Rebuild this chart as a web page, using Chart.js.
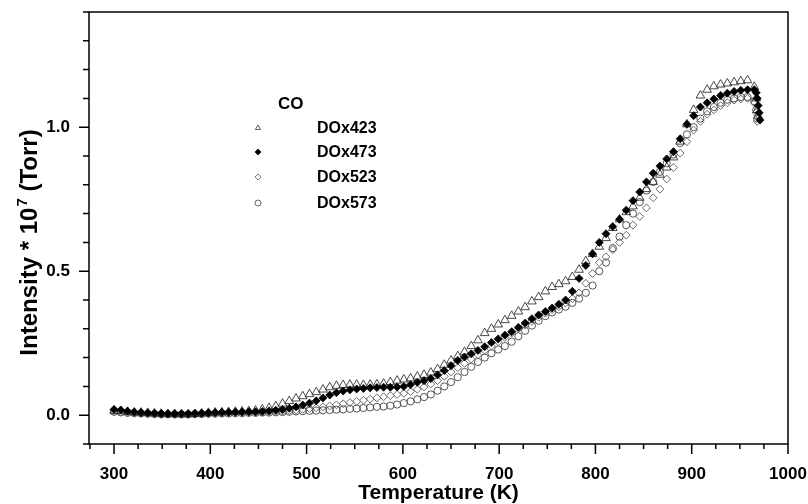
<!DOCTYPE html>
<html>
<head>
<meta charset="utf-8">
<script src="https://cdn.jsdelivr.net/npm/chart.js@4.4.1/dist/chart.umd.min.js"></script>
<style>
  html, body { margin: 0; padding: 0; background: #fff; }
  #wrap { width: 808px; height: 504px; }
</style>
</head>
<body>
<div id="wrap"><canvas id="chart" width="808" height="504"></canvas></div>
<script>
// temperature grid (K) shared by the four runs
const temps = [
  300, 307, 314, 321, 328, 335, 342, 349, 356, 363, 370, 377,
  384, 391, 398, 405, 412, 419, 426, 433, 440, 447, 454, 461,
  468, 475, 482, 489, 496, 503, 510, 517, 524, 531, 538, 545,
  552, 559, 566, 573, 580, 587, 594, 601, 608, 615, 622, 629,
  636, 643, 650, 657, 664, 671, 678, 685, 692, 699, 706, 713,
  720, 727, 734, 741, 748, 755, 762, 769, 776, 783, 790, 797,
  804, 811, 818, 825, 832, 839, 846, 853, 860, 867, 874, 881,
  888, 895, 902, 909, 916, 923, 930, 937, 944, 951, 958, 965
];

// CO intensity * 1e7 (Torr)
const dox423 = [
  0.015, 0.014, 0.012, 0.010, 0.009, 0.008, 0.006, 0.005, 0.004, 0.004, 0.003, 0.003,
  0.004, 0.006, 0.008, 0.009, 0.010, 0.011, 0.012, 0.013, 0.014, 0.016, 0.020, 0.025,
  0.031, 0.040, 0.049, 0.058, 0.066, 0.073, 0.080, 0.089, 0.097, 0.102, 0.105, 0.106,
  0.106, 0.105, 0.106, 0.107, 0.110, 0.115, 0.120, 0.124, 0.128, 0.134, 0.140, 0.148,
  0.160, 0.175, 0.190, 0.205, 0.220, 0.240, 0.260, 0.285, 0.300, 0.315, 0.330, 0.345,
  0.360, 0.375, 0.395, 0.410, 0.430, 0.445, 0.455, 0.465, 0.480, 0.505, 0.535, 0.560,
  0.585, 0.615, 0.650, 0.680, 0.705, 0.725, 0.755, 0.785, 0.810, 0.835, 0.860, 0.895,
  0.950, 1.010, 1.060, 1.110, 1.130, 1.142, 1.148, 1.152, 1.156, 1.160, 1.163, 1.140
];
const dox423TailX = [967, 968, 969];
const dox423TailY = [1.10, 1.06, 1.04];

const dox473 = [
  0.020, 0.018, 0.014, 0.011, 0.009, 0.008, 0.007, 0.006, 0.005, 0.005, 0.005, 0.005,
  0.006, 0.007, 0.008, 0.009, 0.010, 0.010, 0.011, 0.011, 0.012, 0.012, 0.013, 0.015,
  0.017, 0.020, 0.024, 0.029, 0.035, 0.042, 0.050, 0.060, 0.070, 0.078, 0.084, 0.088,
  0.091, 0.093, 0.095, 0.096, 0.097, 0.097, 0.098, 0.100, 0.106, 0.114, 0.120, 0.127,
  0.140, 0.155, 0.172, 0.190, 0.202, 0.213, 0.225, 0.238, 0.252, 0.265, 0.278, 0.290,
  0.305, 0.320, 0.335, 0.348, 0.360, 0.372, 0.385, 0.400, 0.430, 0.475, 0.520, 0.560,
  0.600, 0.630, 0.655, 0.680, 0.712, 0.745, 0.775, 0.810, 0.840, 0.865, 0.890, 0.915,
  0.960, 1.010, 1.040, 1.070, 1.085, 1.098, 1.110, 1.118, 1.124, 1.128, 1.130, 1.130
];
const dox473TailX = [967, 968, 969, 970, 971];
const dox473TailY = [1.12, 1.10, 1.075, 1.05, 1.025];

const dox523 = [
  0.012, 0.011, 0.010, 0.008, 0.007, 0.006, 0.005, 0.004, 0.004, 0.003, 0.003, 0.003,
  0.004, 0.005, 0.006, 0.007, 0.008, 0.008, 0.009, 0.009, 0.010, 0.010, 0.011, 0.012,
  0.013, 0.014, 0.016, 0.018, 0.020, 0.023, 0.026, 0.029, 0.032, 0.036, 0.040, 0.044,
  0.048, 0.052, 0.056, 0.060, 0.064, 0.068, 0.072, 0.076, 0.082, 0.090, 0.098, 0.108,
  0.120, 0.135, 0.150, 0.165, 0.180, 0.195, 0.210, 0.225, 0.240, 0.255, 0.270, 0.285,
  0.300, 0.313, 0.326, 0.340, 0.354, 0.366, 0.377, 0.390, 0.405, 0.425, 0.458, 0.492,
  0.530, 0.550, 0.575, 0.600, 0.625, 0.660, 0.690, 0.720, 0.755, 0.785, 0.820, 0.860,
  0.910, 0.950, 0.990, 1.020, 1.045, 1.060, 1.075, 1.085, 1.094, 1.098, 1.100, 1.085
];
const dox523TailX = [967, 968];
const dox523TailY = [1.05, 1.02];

const dox573 = [
  0.012, 0.010, 0.008, 0.007, 0.006, 0.005, 0.004, 0.003, 0.003, 0.003, 0.003, 0.003,
  0.004, 0.004, 0.005, 0.005, 0.006, 0.006, 0.007, 0.007, 0.008, 0.008, 0.009, 0.009,
  0.010, 0.011, 0.012, 0.013, 0.014, 0.015, 0.016, 0.017, 0.018, 0.019, 0.020, 0.022,
  0.023, 0.025, 0.027, 0.029, 0.030, 0.033, 0.037, 0.042, 0.048, 0.055, 0.063, 0.072,
  0.085, 0.100, 0.115, 0.132, 0.150, 0.168, 0.185, 0.200, 0.215, 0.228, 0.240, 0.255,
  0.274, 0.293, 0.311, 0.328, 0.344, 0.357, 0.367, 0.377, 0.390, 0.405, 0.425, 0.450,
  0.500, 0.530, 0.580, 0.620, 0.660, 0.700, 0.740, 0.780, 0.810, 0.845, 0.875, 0.905,
  0.945, 0.975, 1.000, 1.030, 1.055, 1.070, 1.085, 1.095, 1.100, 1.105, 1.105, 1.090
];
const dox573TailX = [967, 968];
const dox573TailY = [1.06, 1.03];

const seriesNames = ['DOx423', 'DOx473', 'DOx523', 'DOx573'];
const legendTitle = 'CO';

// axis ticks
const xTickValues = [275, 300, 325, 350, 375, 400, 425, 450, 475, 500, 525, 550, 575, 600, 625,
  650, 675, 700, 725, 750, 775, 800, 825, 850, 875, 900, 925, 950, 975, 1000];
const xTickLabels = [300, 400, 500, 600, 700, 800, 900, 1000];
const yTickValues = [-0.1, 0, 0.1, 0.2, 0.3, 0.4, 0.5, 0.6, 0.7, 0.8, 0.9, 1.0, 1.1, 1.2, 1.3, 1.4];
const yTickLabels = [0, 0.5, 1.0];

const FONT = "'Liberation Sans', Arial, Helvetica, sans-serif";

function pts(xs, ys, tx, ty) {
  const out = xs.map((x, i) => ({ x: x, y: ys[i] }));
  tx.forEach((x, i) => out.push({ x: x, y: ty[i] }));
  return out;
}

const styles = [
  { pointStyle: 'triangle', radius: 5, fill: 'rgba(0,0,0,0)', stroke: '#333', width: 0.9 },
  { pointStyle: 'rectRot', radius: 4, fill: '#000', stroke: '#000', width: 0.8 },
  { pointStyle: 'rectRot', radius: 3.9, fill: 'rgba(0,0,0,0)', stroke: '#5a5a5a', width: 0.9 },
  { pointStyle: 'circle', radius: 3.6, fill: 'rgba(0,0,0,0)', stroke: '#444', width: 0.9 }
];

const allData = [
  pts(temps, dox423, dox423TailX, dox423TailY),
  pts(temps, dox473, dox473TailX, dox473TailY),
  pts(temps, dox523, dox523TailX, dox523TailY),
  pts(temps, dox573, dox573TailX, dox573TailY)
];

const datasets = seriesNames.map((name, i) => ({
  label: name,
  data: allData[i],
  showLine: false,
  pointStyle: styles[i].pointStyle,
  pointRadius: styles[i].radius,
  pointHoverRadius: styles[i].radius,
  pointBackgroundColor: styles[i].fill,
  pointBorderColor: styles[i].stroke,
  pointBorderWidth: styles[i].width,
  order: i === 1 ? 0 : 1
}));

function noPad(scale) {
  scale.paddingLeft = 0;
  scale.paddingRight = 0;
  scale.paddingTop = 0;
  scale.paddingBottom = 0;
}

// frame, tick marks, rotated y title with superscript, in-plot legend
const decorPlugin = {
  id: 'decor',
  afterDraw(chart) {
    const ctx = chart.ctx;
    const area = chart.chartArea;
    const xs = chart.scales.x, ys = chart.scales.y;
    ctx.save();
    ctx.strokeStyle = '#000';
    ctx.lineWidth = 1.5;
    ctx.strokeRect(area.left, area.top, area.right - area.left, area.bottom - area.top);

    ctx.beginPath();
    xTickValues.forEach(v => {
      const px = xs.getPixelForValue(v);
      const len = v % 100 === 0 ? 10 : 5;
      ctx.moveTo(px, area.bottom);
      ctx.lineTo(px, area.bottom + len);
    });
    yTickValues.forEach(v => {
      const py = ys.getPixelForValue(v);
      const major = Math.abs(v * 2 - Math.round(v * 2)) < 1e-6;
      const len = major ? 10 : 6;
      ctx.moveTo(area.left, py);
      ctx.lineTo(area.left - len, py);
    });
    ctx.stroke();

    // y axis title
    ctx.fillStyle = '#000';
    ctx.textBaseline = 'alphabetic';
    const mainFont = 'bold 24px ' + FONT;
    const supFont = 'bold 15px ' + FONT;
    const partA = 'Intensity * 10', partB = '7', partC = ' (Torr)';
    ctx.font = mainFont;
    const wA = ctx.measureText(partA).width, wC = ctx.measureText(partC).width;
    ctx.font = supFont;
    const wB = ctx.measureText(partB).width;
    const total = wA + wB + wC;
    ctx.translate(37, 243);
    ctx.rotate(-Math.PI / 2);
    const x0 = -total / 2;
    ctx.font = mainFont;
    ctx.fillText(partA, x0, 0);
    ctx.font = supFont;
    ctx.fillText(partB, x0 + wA + 1, -10);
    ctx.font = mainFont;
    ctx.fillText(partC, x0 + wA + wB + 1, 0);
    ctx.restore();

    // legend
    ctx.save();
    ctx.fillStyle = '#000';
    ctx.textBaseline = 'middle';
    ctx.textAlign = 'left';
    ctx.font = 'bold 17px ' + FONT;
    ctx.fillText(legendTitle, 278, 104);
    const rowsY = [128, 152, 177, 203];
    chart.data.datasets.forEach((ds, i) => {
      ctx.fillStyle = ds.pointBackgroundColor;
      ctx.strokeStyle = ds.pointBorderColor;
      ctx.lineWidth = 0.8;
      Chart.helpers.drawPoint(ctx, { pointStyle: ds.pointStyle, rotation: 0, radius: 3, borderWidth: 0.8 }, 258, rowsY[i]);
      ctx.fillStyle = '#000';
      ctx.font = 'bold 16px ' + FONT;
      ctx.fillText(ds.label, 317, rowsY[i] + 1);
    });
    ctx.restore();
  }
};

new Chart(document.getElementById('chart'), {
  type: 'scatter',
  data: { datasets: datasets },
  plugins: [decorPlugin],
  options: {
    responsive: false,
    animation: false,
    devicePixelRatio: 1,
    layout: { padding: { top: 12, right: 20, left: 0, bottom: 0 } },
    plugins: { legend: { display: false }, tooltip: { enabled: false } },
    scales: {
      x: {
        type: 'linear',
        min: 274,
        max: 1000,
        afterBuildTicks: scale => { scale.ticks = xTickValues.map(v => ({ value: v })); },
        afterFit: scale => { scale.height = 60; noPad(scale); },
        grid: { display: false },
        border: { display: false },
        ticks: {
          autoSkip: false,
          maxRotation: 0,
          padding: 12,
          color: '#000',
          font: { family: FONT, size: 17, weight: 'bold', lineHeight: 1.2 },
          callback: v => xTickLabels.includes(v) ? String(v) : ''
        },
        title: {
          display: true,
          text: 'Temperature (K)',
          color: '#000',
          font: { family: FONT, size: 21, weight: 'bold', lineHeight: 1 },
          padding: { top: 0, bottom: 0 }
        }
      },
      y: {
        type: 'linear',
        min: -0.1,
        max: 1.4,
        afterBuildTicks: scale => { scale.ticks = yTickValues.map(v => ({ value: v })); },
        afterFit: scale => { scale.width = 89; noPad(scale); },
        grid: { display: false },
        border: { display: false },
        ticks: {
          autoSkip: false,
          padding: 11,
          color: '#000',
          font: { family: FONT, size: 17, weight: 'bold' },
          callback: v => yTickLabels.some(t => Math.abs(t - v) < 1e-6) ? v.toFixed(1) : ''
        }
      }
    }
  }
});
</script>
</body>
</html>
